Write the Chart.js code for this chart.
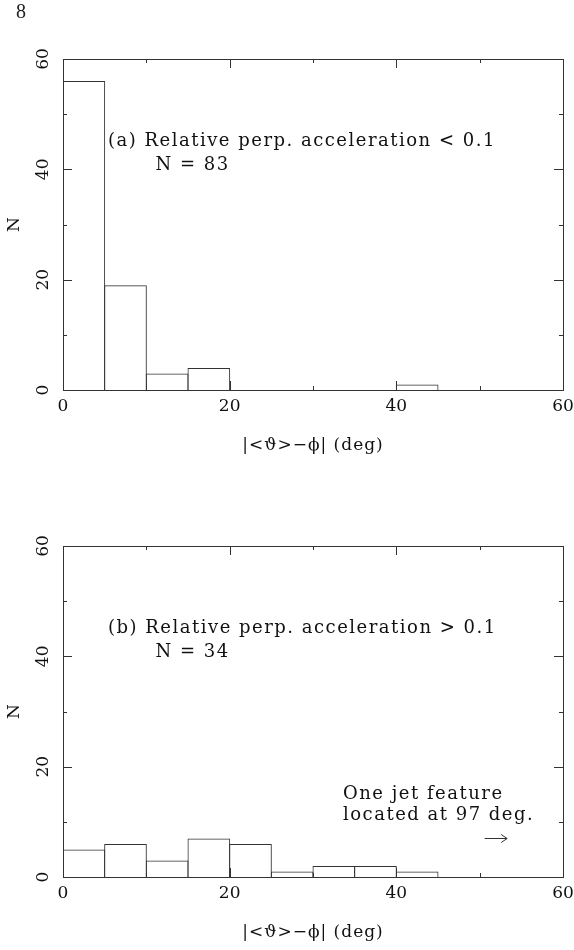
<!DOCTYPE html>
<html>
<head>
<meta charset="utf-8">
<script src="https://cdn.jsdelivr.net/npm/chart.js@4"></script>
<style>
  html, body { margin: 0; padding: 0; background: #fff; }
  canvas { display: block; }
  #page { position: absolute; left: 16px; top: 0px; font: 20px "Liberation Serif", serif; color: #222; }
</style>
</head>
<body>
<div id="page">8</div>
<canvas id="panel-a" width="574" height="475"></canvas>
<canvas id="panel-b" width="574" height="475"></canvas>
<script>
const binCenters = [2.5, 7.5, 12.5, 17.5, 22.5, 27.5, 32.5, 37.5, 42.5, 47.5, 52.5, 57.5];
const countsA = [56, 19, 3, 4, 0, 0, 0, 0, 1, 0, 0, 0];
const countsB = [5, 6, 3, 7, 6, 1, 2, 2, 1, 0, 0, 0];
const xMajor = [0, 20, 40, 60];
const xMinor = [10, 30, 50];
const yMajor = [0, 20, 40, 60];
const yMinor = [10, 30, 50];
const xTitle = "|<\u03d1>\u2212\u03d5| (deg)";
const yTitle = "N";
const notesA = [
  { x: 5.4, y: 45, text: "(a) Relative perp. acceleration < 0.1" },
  { x: 11.1, y: 40.7, text: "N = 83" },
];
const notesB = [
  { x: 5.4, y: 45, text: "(b) Relative perp. acceleration > 0.1" },
  { x: 11.1, y: 40.8, text: "N = 34" },
  { x: 33.6, y: 15, text: "One jet feature" },
  { x: 33.6, y: 11.1, text: "located at 97 deg." },
];
const arrowsB = [{ x0: 50.6, x1: 53.3, y: 7.1 }];

const ink = "#333";
const font = '17px "DejaVu Serif", serif';
const noteFont = '18px "DejaVu Serif", serif';

// frame, inward ticks, rotated y labels, titles and notes
const pgFrame = {
  id: "pgFrame",
  afterDraw(chart) {
    const { ctx, chartArea: a } = chart;
    const xs = chart.scales.x, ys = chart.scales.y;
    const { notes, arrows } = chart.options.plugins.pgFrame;
    ctx.save();
    ctx.strokeStyle = ink;
    ctx.lineWidth = 1;
    ctx.strokeRect(a.left + 0.5, a.top + 0.5, a.right - a.left, a.bottom - a.top);
    ctx.beginPath();
    const tick = (vals, len) => {
      vals.forEach((v) => {
        const px = Math.round(xs.getPixelForValue(v)) + 0.5;
        ctx.moveTo(px, a.bottom); ctx.lineTo(px, a.bottom - len);
        ctx.moveTo(px, a.top); ctx.lineTo(px, a.top + len);
      });
    };
    const ytick = (vals, len) => {
      vals.forEach((v) => {
        const py = Math.round(ys.getPixelForValue(v)) + 0.5;
        ctx.moveTo(a.left, py); ctx.lineTo(a.left + len, py);
        ctx.moveTo(a.right, py); ctx.lineTo(a.right - len, py);
      });
    };
    tick(xMajor, 9); tick(xMinor, 4);
    ytick(yMajor, 9); ytick(yMinor, 4);
    (arrows || []).forEach((r) => {
      const x0 = xs.getPixelForValue(r.x0), x1 = xs.getPixelForValue(r.x1);
      const y = Math.round(ys.getPixelForValue(r.y)) + 0.5;
      ctx.moveTo(x0, y); ctx.lineTo(x1, y);
      ctx.moveTo(x1 - 6, y - 4); ctx.lineTo(x1, y); ctx.lineTo(x1 - 6, y + 4);
    });
    ctx.stroke();

    ctx.fillStyle = "#111";
    ctx.font = font;
    ctx.textAlign = "center";
    ctx.textBaseline = "middle";
    xMajor.forEach((v) => ctx.fillText(String(v), xs.getPixelForValue(v), a.bottom + 17));
    yMajor.forEach((v) => {
      ctx.save();
      ctx.translate(a.left - 19, ys.getPixelForValue(v));
      ctx.rotate(-Math.PI / 2);
      ctx.fillText(String(v), 0, 0);
      ctx.restore();
    });
    ctx.save();
    ctx.translate(a.left - 48, (a.top + a.bottom) / 2);
    ctx.rotate(-Math.PI / 2);
    ctx.fillText(yTitle, 0, 0);
    ctx.restore();
    ctx.letterSpacing = "1px";
    ctx.fillText(xTitle, (a.left + a.right) / 2, a.bottom + 56);

    ctx.font = noteFont;
    ctx.letterSpacing = "1.5px";
    ctx.textAlign = "left";
    notes.forEach((n) => ctx.fillText(n.text, xs.getPixelForValue(n.x), ys.getPixelForValue(n.y)));
    ctx.restore();
  },
};

function makePanel(id, counts, notes, arrows, top) {
  new Chart(document.getElementById(id), {
    type: "bar",
    data: {
      datasets: [{
        data: binCenters.map((c, i) => ({ x: c, y: counts[i] })),
        backgroundColor: "rgba(0,0,0,0)",
        borderColor: ink,
        borderWidth: 1,
        barPercentage: 1.024,
        categoryPercentage: 1,
        inflateAmount: 0,
      }],
    },
    options: {
      responsive: false,
      animation: false,
      layout: { padding: { left: 63, top: top, right: 11, bottom: 475 - top - 331 } },
      plugins: { legend: { display: false }, tooltip: { enabled: false }, pgFrame: { notes, arrows } },
      scales: {
        x: { type: "linear", min: 0, max: 60, display: false, offset: false },
        y: { min: 0, max: 60, display: false },
      },
    },
    plugins: [pgFrame],
  });
}

makePanel("panel-a", countsA, notesA, [], 59);
makePanel("panel-b", countsB, notesB, arrowsB, 71);
</script>
</body>
</html>
